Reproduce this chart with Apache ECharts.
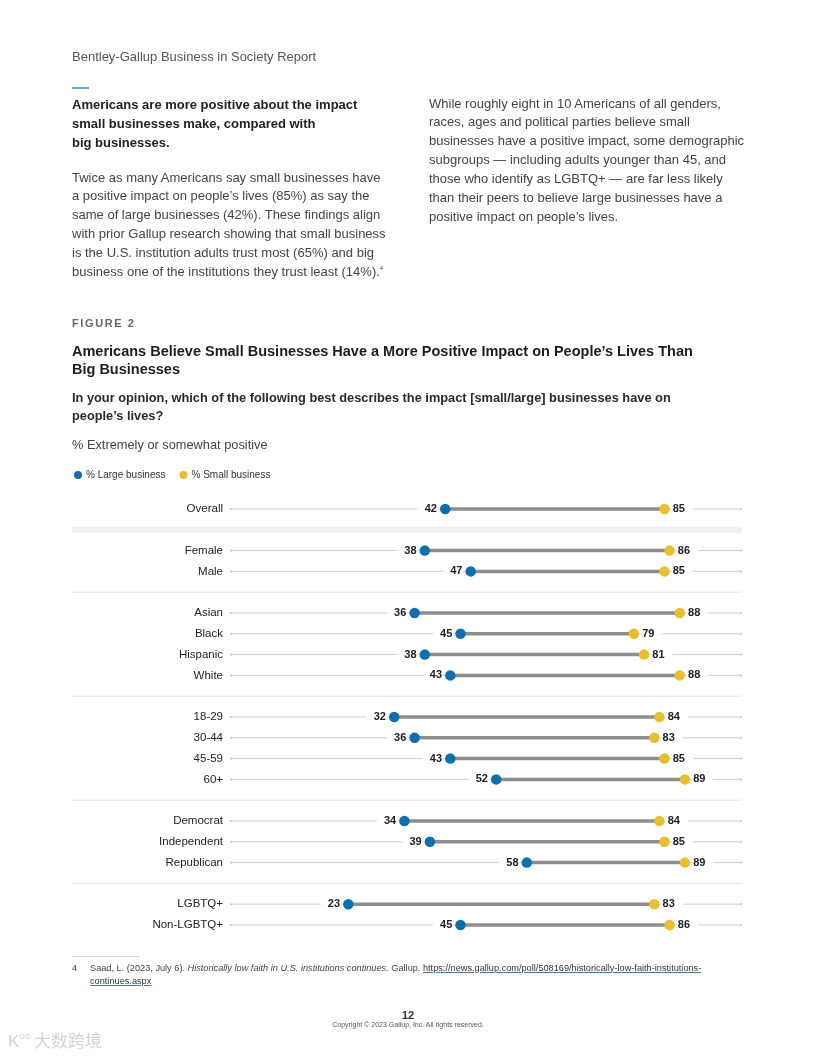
<!DOCTYPE html>
<html>
<head>
<meta charset="utf-8">
<script src="https://cdn.jsdelivr.net/npm/echarts@6/dist/echarts.min.js"></script>
<style>
  html, body { margin: 0; padding: 0; background: #fff; }
  body { width: 816px; height: 1056px; position: relative; overflow: hidden; font-family: "Liberation Sans", Arial, sans-serif; color: #444; }
  .t { position: absolute; white-space: nowrap; }
  #chart { position: absolute; left: 0; top: 0; width: 816px; height: 1056px; }
  .head { font-size: 13px; color: #555; }
  .h2 { font-size: 13px; font-weight: bold; color: #222; line-height: 19px; }
  .p { font-size: 13px; color: #444; line-height: 18.9px; }
  sup { font-size: 6px; line-height: 0; position: relative; top: -6px; vertical-align: baseline; }
  .fig { font-size: 11px; letter-spacing: 1.6px; color: #666; font-weight: bold; }
  .ctitle { font-size: 14.5px; font-weight: bold; color: #1d1d1d; line-height: 17.5px; }
  .q { font-size: 12.8px; font-weight: bold; color: #2a2a2a; line-height: 18px; }
  .sub { font-size: 12.8px; color: #444; }
  .fn { font-size: 9.2px; color: #444; line-height: 13px; }
  .fn a { color: #333; text-decoration: underline; text-decoration-color: #3a7ca5; }
</style>
</head>
<body>
<div id="chart"></div>

<div class="t head" style="left:72px; top:48px; line-height:18px;">Bentley-Gallup Business in Society Report</div>
<div class="t" style="left:72px; top:87px; width:17px; height:2px; background:#6ea6c3;"></div>

<div class="t h2" style="left:72px; top:94.5px;">Americans are more positive about the impact<br>small businesses make, compared with<br>big businesses.</div>

<div class="t p" style="left:72px; top:168.5px;">Twice as many Americans say small businesses have<br>a positive impact on people’s lives (85%) as say the<br>same of large businesses (42%). These findings align<br>with prior Gallup research showing that small business<br>is the U.S. institution adults trust most (65%) and big<br>business one of the institutions they trust least (14%).<sup>4</sup></div>

<div class="t p" style="left:429px; top:94.5px;">While roughly eight in 10 Americans of all genders,<br>races, ages and political parties believe small<br>businesses have a positive impact, some demographic<br>subgroups — including adults younger than 45, and<br>those who identify as LGBTQ+ — are far less likely<br>than their peers to believe large businesses have a<br>positive impact on people’s lives.</div>

<div class="t fig" style="left:72px; top:315px; line-height:16px;">FIGURE 2</div>

<div class="t ctitle" style="left:72px; top:343px;">Americans Believe Small Businesses Have a More Positive Impact on People’s Lives Than<br>Big Businesses</div>

<div class="t q" style="left:72px; top:389px;">In your opinion, which of the following best describes the impact [small/large] businesses have on<br>people’s lives?</div>

<div class="t sub" style="left:72px; top:436px; line-height:18px;">% Extremely or somewhat positive</div>

<div class="t" style="left:72px; top:956px; width:68px; height:1px; background:#d0d0d0;"></div>
<div class="t fn" style="left:72px; top:961.5px;">4</div>
<div class="t fn" style="left:90px; top:961.5px;">Saad, L. (2023, July 6). <i>Historically low faith in U.S. institutions continues.</i> Gallup. <a>https://news.gallup.com/poll/508169/historically-low-faith-institutions-</a><br><a>continues.aspx</a></div>

<div class="t" style="left:0; width:816px; text-align:center; top:1008px; font-size:11px; font-weight:bold; color:#333; line-height:14px;">12</div>
<div class="t" style="left:0; width:816px; text-align:center; top:1020px; font-size:7px; color:#555; line-height:10px;">Copyright © 2023 Gallup, Inc. All rights reserved.</div>

<div class="t" style="left:8px; top:1029px; font-size:17px; color:#d4d4d4; line-height:22px; font-family:'Noto Sans CJK SC', sans-serif;"><span style="font-family:'Liberation Sans'; font-size:17px;">K</span><span style="font-size:9px; position:relative; top:-8px;">oo</span> 大数跨境</div>

<script>
// ---- data ----
const categories = ['Overall', 'Female', 'Male', 'Asian', 'Black', 'Hispanic', 'White',
  '18-29', '30-44', '45-59', '60+', 'Democrat', 'Independent', 'Republican', 'LGBTQ+', 'Non-LGBTQ+'];
const largeBusiness = [42, 38, 47, 36, 45, 38, 43, 32, 36, 43, 52, 34, 39, 58, 23, 45];
const smallBusiness = [85, 86, 85, 88, 79, 81, 88, 84, 83, 85, 89, 84, 85, 89, 83, 86];
const groupSizes = [1, 2, 4, 4, 3, 2];
const seriesNames = ['% Large business', '% Small business'];

// ---- build slots (groups separated by blank rows) ----
const slots = [];
const rowItems = [];   // [large, small, slotIndex]
const gapItems = [];   // [0, slotIndex, gapNumber]
let k = 0;
groupSizes.forEach((n, gi) => {
  if (gi > 0) { gapItems.push([0, slots.length, gi]); slots.push('__gap' + gi); }
  for (let j = 0; j < n; j++) {
    rowItems.push([largeBusiness[k], smallBusiness[k], slots.length]);
    slots.push(categories[k]);
    k++;
  }
});

const BLUE = '#0f6fae';
const YELLOW = '#e8bf2e';
const chart = echarts.init(document.getElementById('chart'));

chart.setOption({
  animation: false,
  textStyle: { fontFamily: 'Liberation Sans, Arial, sans-serif' },
  legend: {
    left: 69, top: 465,
    icon: 'circle', itemWidth: 8, itemHeight: 8, itemGap: 14,
    textStyle: { fontSize: 10, color: '#333', padding: [0, 0, 0, -1] },
    data: seriesNames
  },
  grid: { left: 231, right: 75, top: 509, bottom: 131, containLabel: false },
  xAxis: { type: 'value', min: 0, max: 100, show: false },
  yAxis: {
    type: 'category', data: slots, inverse: true, boundaryGap: false,
    axisLine: { show: false }, axisTick: { show: false }, splitLine: { show: false },
    axisLabel: {
      margin: 8, fontSize: 11.5, color: '#222', interval: 0,
      formatter: v => v.indexOf('__gap') === 0 ? '' : v
    }
  },
  series: [
    { // group separators
      type: 'custom', silent: true, z: 1,
      data: gapItems,
      renderItem: (params, api) => {
        const p = api.coord([0, api.value(1)]);
        const cs = params.coordSys;
        const first = api.value(2) === 1;
        return {
          type: 'line',
          shape: { x1: cs.x - 159, y1: p[1], x2: cs.x + cs.width + 1, y2: p[1] },
          style: { stroke: first ? '#f1f1f1' : '#e6e6e6', lineWidth: first ? 6 : 1 }
        };
      }
    },
    { // thin row guide lines
      type: 'custom', silent: true, z: 2,
      data: rowItems.map(r => [0, 100, r[2]]),
      renderItem: (params, api) => {
        const a = api.coord([api.value(0), api.value(2)]);
        const b = api.coord([api.value(1), api.value(2)]);
        return {
          type: 'group',
          children: [
            { type: 'line', shape: { x1: a[0], y1: a[1], x2: b[0], y2: b[1] }, style: { stroke: '#cfcfcf', lineWidth: 1 } },
            { type: 'line', shape: { x1: a[0], y1: a[1] - 1, x2: a[0], y2: a[1] + 1 }, style: { stroke: '#aaa', lineWidth: 1 } },
            { type: 'line', shape: { x1: b[0], y1: b[1] - 1, x2: b[0], y2: b[1] + 1 }, style: { stroke: '#aaa', lineWidth: 1 } }
          ]
        };
      }
    },
    { // connecting bar between large and small
      type: 'custom', silent: true, z: 3,
      data: rowItems,
      renderItem: (params, api) => {
        const a = api.coord([api.value(0), api.value(2)]);
        const b = api.coord([api.value(1), api.value(2)]);
        return { type: 'line', shape: { x1: a[0], y1: a[1], x2: b[0], y2: b[1] }, style: { stroke: '#8d8d8d', lineWidth: 3.5 } };
      }
    },
    {
      name: seriesNames[0], type: 'scatter', z: 5,
      symbolSize: 10.5, itemStyle: { color: BLUE, opacity: 1 },
      data: rowItems.map(r => [r[0], r[2]]),
      label: {
        show: true, position: 'left', distance: 2,
        formatter: p => p.value[0],
        fontSize: 11, fontWeight: 'bold', color: '#222',
        backgroundColor: '#fff', padding: [1, 1, 1, 7]
      }
    },
    {
      name: seriesNames[1], type: 'scatter', z: 5,
      symbolSize: 10.5, itemStyle: { color: YELLOW, opacity: 1 },
      data: rowItems.map(r => [r[1], r[2]]),
      label: {
        show: true, position: 'right', distance: 2,
        formatter: p => p.value[0],
        fontSize: 11, fontWeight: 'bold', color: '#222',
        backgroundColor: '#fff', padding: [1, 8, 1, 1]
      }
    }
  ]
});
</script>
</body>
</html>
